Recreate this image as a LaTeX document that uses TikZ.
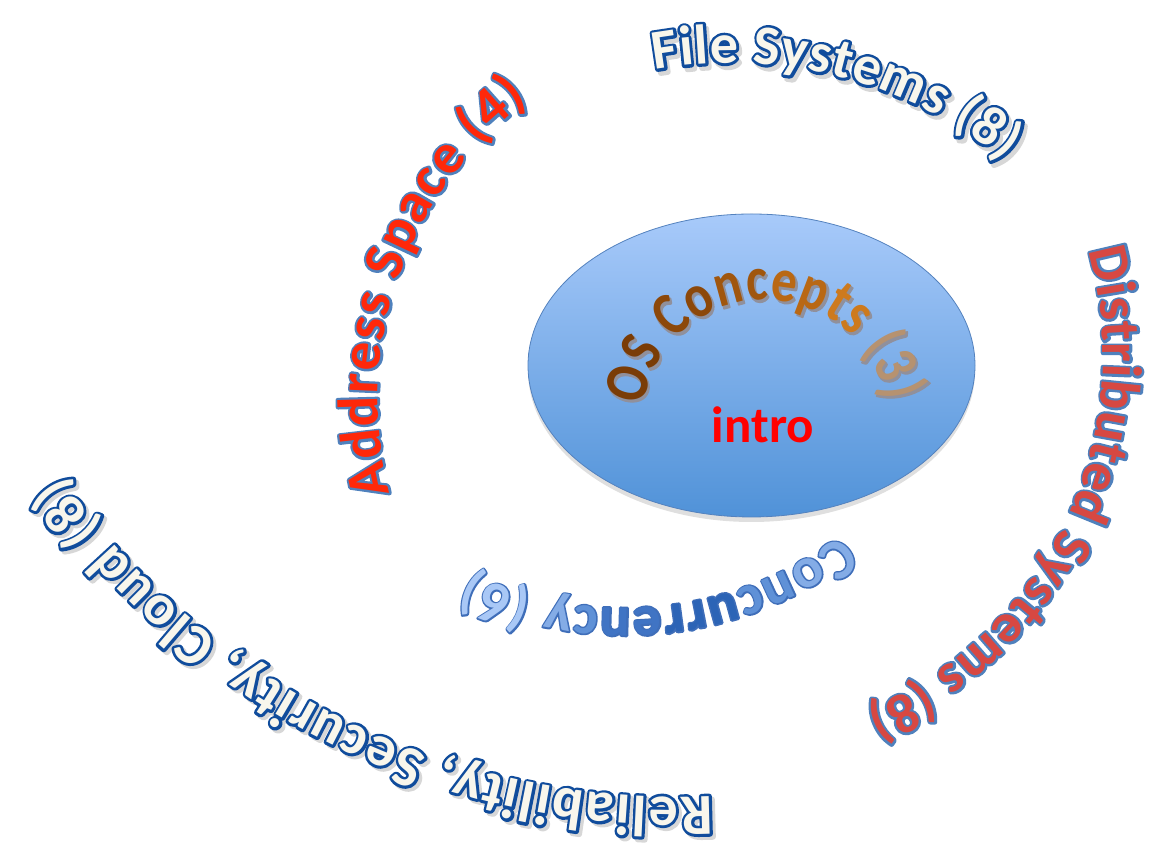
\documentclass[tikz,border=0pt]{standalone}
\usepackage{fontspec}
\setmainfont{Carlito}
\newfontfamily\osfamily[FakeStretch=0.82]{Carlito}
\usetikzlibrary{decorations.text,shapes.geometric,shadows}

\definecolor{coreTop}{RGB}{168,202,250}
\definecolor{coreBot}{RGB}{80,146,216}
\definecolor{coreEdge}{RGB}{84,130,190}
\definecolor{addrFill}{RGB}{255,40,10}
\definecolor{distFill}{RGB}{215,72,66}
\definecolor{paleFill}{RGB}{248,246,236}
\definecolor{darkEdge}{RGB}{16,76,156}
\definecolor{midEdge}{RGB}{79,129,189}
\definecolor{concEdge}{RGB}{63,110,185}
\definecolor{shade}{RGB}{215,215,215}
\definecolor{osShade}{RGB}{70,70,90}
\definecolor{cqA}{RGB}{169,200,246}
\definecolor{cqB}{RGB}{132,172,230}
\definecolor{cqC}{RGB}{95,145,215}
\definecolor{cqD}{RGB}{64,116,196}
\definecolor{cqE}{RGB}{44,100,182}
\definecolor{osA}{RGB}{122,60,6}
\definecolor{osB}{RGB}{140,72,10}
\definecolor{osC}{RGB}{160,86,14}
\definecolor{osD}{RGB}{185,104,20}
\definecolor{osE}{RGB}{205,122,30}
\definecolor{osF}{RGB}{182,146,112}

% fonts of the rings
\newcommand\fOS{\osfamily\bfseries\fontsize{62}{62}\selectfont}
\newcommand\fConc{\bfseries\fontsize{57}{57}\selectfont}
\newcommand\fAddr{\bfseries\fontsize{57}{57}\selectfont}
\newcommand\fFile{\bfseries\fontsize{56}{56}\selectfont}
\newcommand\fDist{\bfseries\fontsize{56}{56}\selectfont}
\newcommand\fRel{\bfseries\fontsize{58}{58}\selectfont}
% glyph painting: wide stroke under the letters, plain fill on top
\newcommand\wDark{\special{pdf:literal direct 2 Tr 1 j 5.5 w}}
\newcommand\wMid{\special{pdf:literal direct 2 Tr 1 j 4.6 w}}
\newcommand\wConc{\special{pdf:literal direct 2 Tr 1 j 3 w}}
\newcommand\wSoft{\special{pdf:literal direct 2 Tr 1 j 1.2 w}}
\newcommand\wNone{\special{pdf:literal direct 0 Tr}}
% outlines and shades
\newcommand\eAddr{\fAddr\color{midEdge}\wMid}
\newcommand\eDist{\fDist\color{midEdge}\wMid}
\newcommand\eFile{\fFile\color{darkEdge}\wDark}
\newcommand\hFile{\fFile\color{shade}\wDark}
\newcommand\eRel{\fRel\color{darkEdge}\wDark}
\newcommand\hRel{\fRel\color{shade}\wDark}
\newcommand\eConc{\fConc\color{concEdge}\wConc}
\newcommand\hOS{\fOS\color{osShade!60}\wSoft}
% fills
\newcommand\tAddr{\fAddr\color{addrFill}\wNone}
\newcommand\tFile{\fFile\color{paleFill}\wNone}
\newcommand\tDist{\fDist\color{distFill}\wNone}
\newcommand\tRel{\fRel\color{paleFill}\wNone}
% colour steps for the shaded words
\newcommand\blA{\fConc\color{cqA}\wNone}
\newcommand\blB{\fConc\color{cqB}\wNone}
\newcommand\blC{\fConc\color{cqC}\wNone}
\newcommand\blD{\fConc\color{cqD}\wNone}
\newcommand\blE{\fConc\color{cqE}\wNone}
\newcommand\brA{\fOS\color{osA}\wNone}
\newcommand\brB{\fOS\color{osB}\wNone}
\newcommand\brC{\fOS\color{osC}\wNone}
\newcommand\brD{\fOS\color{osD}\wNone}
\newcommand\brE{\fOS\color{osE}\wNone}
\newcommand\brF{\fOS\color{osF}\wNone}

% [offset]{centre}{radius}{from}{to}{text}
\newcommand\ringtext[6][0,0]{%
  \path[decorate, decoration={text along path, text align={fit to path},
      text={#6}}]
    ([shift={(#4:#3)}, shift={(#1)}]#2) arc[start angle=#4, end angle=#5, radius=#3];}

\tikzset{
  core/.style={ellipse, draw=coreEdge, line width=0.8pt,
    top color=coreTop, bottom color=coreBot,
    minimum width=447pt, minimum height=303pt, inner sep=0pt,
    drop shadow={shadow xshift=0pt, shadow yshift=-5pt, opacity=0.25}},
  introtext/.style={font=\bfseries\fontsize{51}{51}\selectfont,
    text=red, anchor=base, inner sep=0pt},
}

\begin{document}
\begin{tikzpicture}[x=1pt,y=1pt]
\useasboundingbox (0,0) rectangle (1149,845);

\node[core] (core) at (751.5,479.5) {};
\node[introtext] (intro) at (763,402) {intro};

% centres of the arcs
\coordinate (osC) at (765,422);
\coordinate (concC) at (625,590);
\coordinate (addrC) at (750,445);
\coordinate (fileC) at (731,352);
\coordinate (distC) at (718,490);
\coordinate (relC) at (677,801);

\ringtext[1.5,-2]{osC}{123}{172}{10}{|\hOS|OS Concepts (3)}
\ringtext{osC}{123}{172}{10}{|\brA|OS |\brB|Co|\brC|nc|\brD|ep|\brE|ts |\brF|(3)}

\ringtext{concC}{353}{-52.5}{-116}{|\eConc|Concurrency (6)}
\ringtext{concC}{353}{-52.5}{-116}{|\blB|Co|\blC|nc|\blE|urr|\blD|en|\blC|c|\blB|y |\blA|(6)}

\ringtext{addrC}{372}{194.5}{126.5}{|\eAddr|Address Space (4)}
\ringtext{addrC}{372}{194.5}{126.5}{|\tAddr|Address Space (4)}

\ringtext[3,-4]{fileC}{430}{100.2}{50.5}{|\hFile|File Systems (8)}
\ringtext{fileC}{430}{100.2}{50.5}{|\eFile|File Systems (8)}
\ringtext{fileC}{430}{100.2}{50.5}{|\tFile|File Systems (8)}

\ringtext{distC}{385}{15.8}{-67.5}{|\eDist|Distributed Systems (8)}
\ringtext{distC}{385}{15.8}{-67.5}{|\tDist|Distributed Systems (8)}

\ringtext[3,-3]{relC}{753}{-87.3}{-145}{|\hRel|Reliability, Security, Cloud (8)}
\ringtext{relC}{753}{-87.3}{-145}{|\eRel|Reliability, Security, Cloud (8)}
\ringtext{relC}{753}{-87.3}{-145}{|\tRel|Reliability, Security, Cloud (8)}

\end{tikzpicture}
\end{document}
